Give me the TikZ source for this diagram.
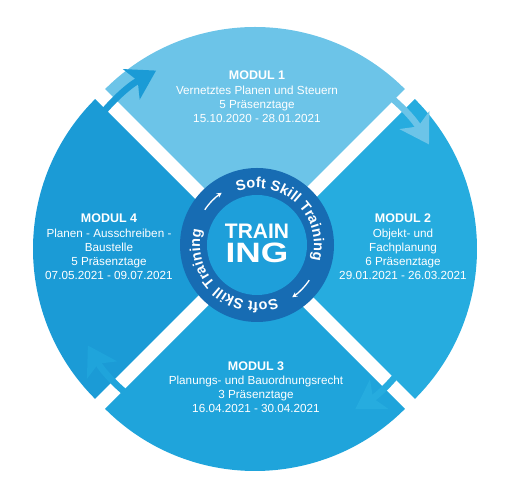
\documentclass[tikz,border=0pt]{standalone}
\usepackage{fontspec}
\setmainfont{Liberation Sans}
\usepackage{xcolor}
\usepackage{graphicx}
\usepackage{tikz}
\usetikzlibrary{arrows.meta,decorations.text}
\definecolor{hellBlau}{HTML}{6CC4E8}
\definecolor{linksBlau}{HTML}{1B9BD6}
\definecolor{rechtsBlau}{HTML}{26ACDF}
\definecolor{untenBlau}{HTML}{1FA4DB}
\definecolor{ringBlau}{HTML}{176CB3}
\definecolor{kernBlau}{HTML}{1E9FDA}
\newcommand{\titel}{\bfseries\fontsize{12.5}{14.2}\selectfont}
\newcommand{\ringschrift}{\bfseries\fontsize{14.5}{14.5}\selectfont}

\begin{document}
\begin{tikzpicture}[x=1pt,y=1pt,
  modul/.style={text=white,align=center,inner sep=0pt,font=\fontsize{11.7}{14.2}\selectfont},
  pfeil/.style={line width=6.5pt,-{Stealth[length=28pt,width=34pt,inset=7pt]}},
  kleinpfeil/.style={white,line width=1.3pt,-{Stealth[length=5pt,width=5pt]}}]
\useasboundingbox (0,0) rectangle (512,500);
\coordinate (M) at (255,251);
\coordinate (R) at (257,255);
% sektoren
\fill[hellBlau,shift={(255,261)}] (0,0) -- (45:212) arc[start angle=45,end angle=135,radius=212] -- cycle;
\fill[linksBlau,shift={(245,251)}] (0,0) -- (135:212) arc[start angle=135,end angle=225,radius=212] -- cycle;
\fill[untenBlau,shift={(255,241)}] (0,0) -- (225:212) arc[start angle=225,end angle=315,radius=212] -- cycle;
\fill[rechtsBlau,shift={(265,251)}] (0,0) -- (-45:212) arc[start angle=-45,end angle=45,radius=212] -- cycle;
% pfeile
\draw[pfeil,linksBlau,shift={(M)}] (150:204) arc[start angle=150,end angle=119,radius=204];
\draw[pfeil,hellBlau,shift={(M)}] (62:203) arc[start angle=62,end angle=31,radius=203];
\draw[pfeil,rechtsBlau,shift={(M)}] (-28:189) arc[start angle=-28,end angle=-58,radius=189];
\draw[pfeil,untenBlau,shift={(M)}] (-118:193) arc[start angle=-118,end angle=-150,radius=193];
% ring
\fill[ringBlau] (R) circle[radius=77];
\fill[kernBlau] (R) circle[radius=50];
\path[decorate,decoration={text along path,text={|\ringschrift|Soft Skill Training},
  text color=white,text align=fit to path},shift={(R)}]
  (110:57) arc[start angle=110,end angle=-15,radius=57];
\path[decorate,decoration={text along path,text={|\ringschrift|Soft Skill Training},
  text color=white,text align=fit to path},shift={(R)}]
  (-70:57) arc[start angle=-70,end angle=-195,radius=57];
\draw[kleinpfeil,shift={(R)}] (146:63) arc[start angle=146,end angle=124,radius=63];
\draw[kleinpfeil,shift={(R)}] (-34:63) arc[start angle=-34,end angle=-56,radius=63];
\node[text=white,anchor=base,font=\bfseries\fontsize{21}{21}\selectfont] (train) at (257,261) {TRAIN};
\node[text=white,anchor=base] (ing) at (257,237) {\scalebox{1.26}[1]{\bfseries\fontsize{28}{28}\selectfont ING}};
% module
\node[modul] (modul1) at (257,403) {{\titel MODUL 1}\\Vernetztes Planen und Steuern\\5 Präsenztage\\15.10.2020 - 28.01.2021};
\node[modul] (modul2) at (403,253) {{\titel MODUL 2}\\Objekt- und\\Fachplanung\\6 Präsenztage\\29.01.2021 - 26.03.2021};
\node[modul] (modul3) at (256,113) {{\titel MODUL 3}\\Planungs- und Bauordnungsrecht\\3 Präsenztage\\16.04.2021 - 30.04.2021};
\node[modul] (modul4) at (109,253) {{\titel MODUL 4}\\Planen - Ausschreiben -\\Baustelle\\5 Präsenztage\\07.05.2021 - 09.07.2021};
\end{tikzpicture}
\end{document}
